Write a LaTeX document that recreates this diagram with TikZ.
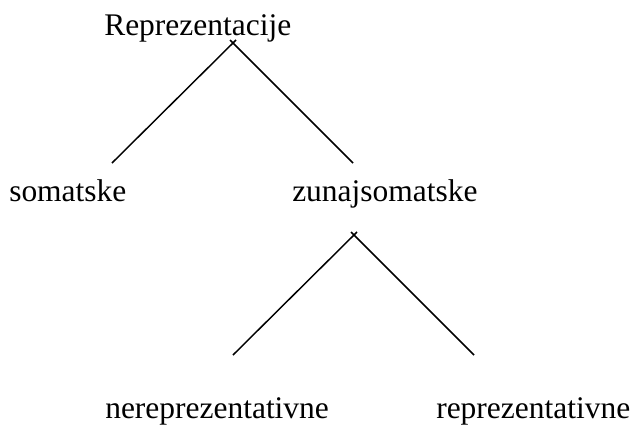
\documentclass[tikz,border=0pt]{standalone}
\usepackage{fontspec}
\setmainfont{Liberation Serif}
\begin{document}
\begin{tikzpicture}[x=0.75pt,y=-0.75pt,
  label/.style={anchor=base west,inner sep=0pt,font=\fontsize{23.6}{28}\selectfont},
  branch/.style={line width=1.1pt,black}]
\useasboundingbox (0,0) rectangle (634,425);

% labels
\node[label] (root) at (104,35) {Reprezentacije};
\node[label] (som)  at (9,201)  {somatske};
\node[label] (zun)  at (292,201) {zunajsomatske};
\node[label] (nerep) at (105,418) {nereprezentativne};
\node[label] (rep)  at (436,418) {reprezentativne};

% branch points of the upper fork
\coordinate (a1l) at (236,40);
\coordinate (a1r) at (230,40);
\coordinate (s1) at (112,163);
\coordinate (z1) at (353,163);

% branch points of the lower fork
\coordinate (a2l) at (357,232);
\coordinate (a2r) at (351,232);
\coordinate (n2) at (233,355);
\coordinate (r2) at (474,355);

\draw[branch] (a1l) -- (s1);
\draw[branch] (a1r) -- (z1);
\draw[branch] (a2l) -- (n2);
\draw[branch] (a2r) -- (r2);
\end{tikzpicture}
\end{document}
